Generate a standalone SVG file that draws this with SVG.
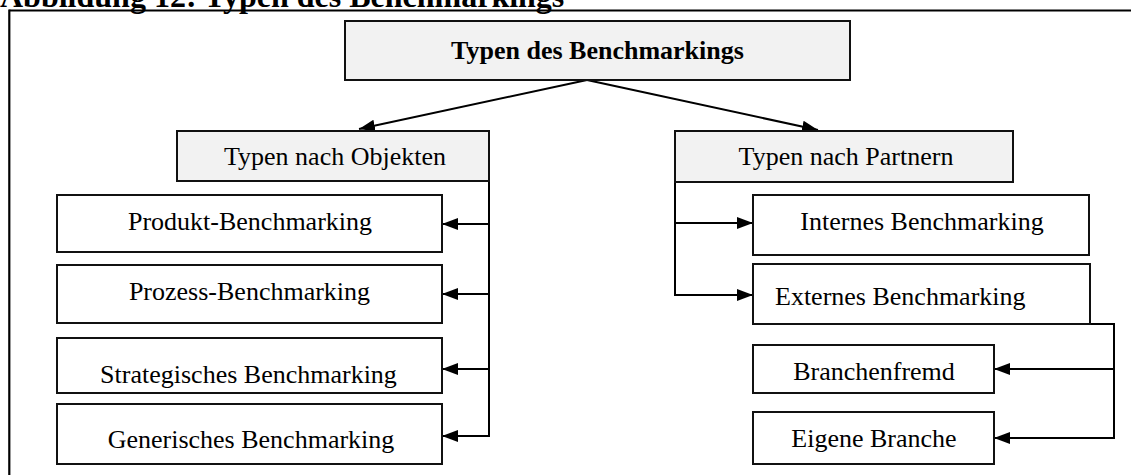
<svg xmlns="http://www.w3.org/2000/svg" width="1131" height="475" viewBox="0 0 1131 475">
  <style>
    .box { stroke: #111; stroke-width: 2; fill: #fff; }
    .head { fill: #f2f2f2; }
    .lbl { font-family: "Liberation Serif", "Times New Roman", serif; font-size: 26px; fill: #000; }
    .ctr { text-anchor: middle; }
    .bold { font-weight: bold; }
    .wire { stroke: #000; stroke-width: 2; fill: none; }
    .arr { marker-end: url(#tip); }
  </style>
  <defs>
    <marker id="tip" markerUnits="userSpaceOnUse" markerWidth="16" markerHeight="12" refX="16" refY="6" orient="auto">
      <path d="M0,0 L16,6 L0,12 Z" fill="#000"/>
    </marker>
  </defs>

  <rect x="0" y="0" width="1131" height="475" fill="#fff"/>

  <!-- caption, partly cut at the top edge -->
  <text x="0" y="6.5" font-family="'Liberation Serif', 'Times New Roman', serif" font-size="32" font-weight="bold">Abbildung 12: Typen des Benchmarkings</text>

  <!-- frame -->
  <g id="frame" stroke="#000" stroke-width="2.2" fill="none">
    <line x1="9.3" y1="10.5" x2="1131" y2="10.5"/>
    <line x1="9.3" y1="9.5" x2="9.3" y2="475"/>
  </g>

  <!-- connectors -->
  <g id="connectors">
    <line class="wire arr" x1="587" y1="80" x2="359" y2="129"/>
    <line class="wire arr" x1="587" y1="80" x2="818" y2="130"/>

    <line class="wire" x1="489" y1="181" x2="489" y2="437"/>
    <line class="wire arr" x1="489" y1="224" x2="442" y2="224"/>
    <line class="wire arr" x1="489" y1="294" x2="442" y2="294"/>
    <line class="wire arr" x1="489" y1="369" x2="442" y2="369"/>
    <line class="wire arr" x1="490" y1="436" x2="442" y2="436"/>

    <line class="wire" x1="675" y1="182" x2="675" y2="296"/>
    <line class="wire arr" x1="675" y1="223" x2="753" y2="223"/>
    <line class="wire arr" x1="674" y1="295" x2="753" y2="295"/>

    <polyline class="wire" points="1090,324 1114,324 1114,438"/>
    <line class="wire arr" x1="1114" y1="369" x2="994" y2="369"/>
    <line class="wire arr" x1="1115" y1="438" x2="994" y2="438"/>
  </g>

  <g id="root">
    <rect class="box head" x="345" y="21" width="505" height="59"/>
    <text class="lbl ctr bold" x="597.5" y="59">Typen des Benchmarkings</text>
  </g>

  <g id="objekte">
    <rect class="box head" x="177" y="131" width="312" height="50"/>
    <text class="lbl ctr" x="335" y="165">Typen nach Objekten</text>
  </g>

  <g id="partner">
    <rect class="box head" x="675" y="131" width="338" height="51"/>
    <text class="lbl ctr" x="846" y="165">Typen nach Partnern</text>
  </g>

  <g id="produkt">
    <rect class="box" x="57" y="195" width="385" height="57"/>
    <text class="lbl ctr" x="250" y="230">Produkt-Benchmarking</text>
  </g>

  <g id="prozess">
    <rect class="box" x="57" y="265" width="385" height="58"/>
    <text class="lbl ctr" x="249.5" y="300">Prozess-Benchmarking</text>
  </g>

  <g id="strategisch">
    <rect class="box" x="57" y="338" width="385" height="55"/>
    <text class="lbl ctr" x="248.5" y="383">Strategisches Benchmarking</text>
  </g>

  <g id="generisch">
    <rect class="box" x="57" y="404" width="385" height="60"/>
    <text class="lbl ctr" x="251" y="448">Generisches Benchmarking</text>
  </g>

  <g id="intern">
    <rect class="box" x="753" y="195" width="336" height="60"/>
    <text class="lbl ctr" x="922" y="230">Internes Benchmarking</text>
  </g>

  <g id="extern">
    <rect class="box" x="753" y="264" width="337" height="60"/>
    <text class="lbl" x="775" y="305">Externes Benchmarking</text>
  </g>

  <g id="branchenfremd">
    <rect class="box" x="753" y="345" width="241" height="48"/>
    <text class="lbl ctr" x="874" y="380">Branchenfremd</text>
  </g>

  <g id="eigene">
    <rect class="box" x="753" y="412" width="241" height="52"/>
    <text class="lbl ctr" x="874" y="447">Eigene Branche</text>
  </g>
</svg>
